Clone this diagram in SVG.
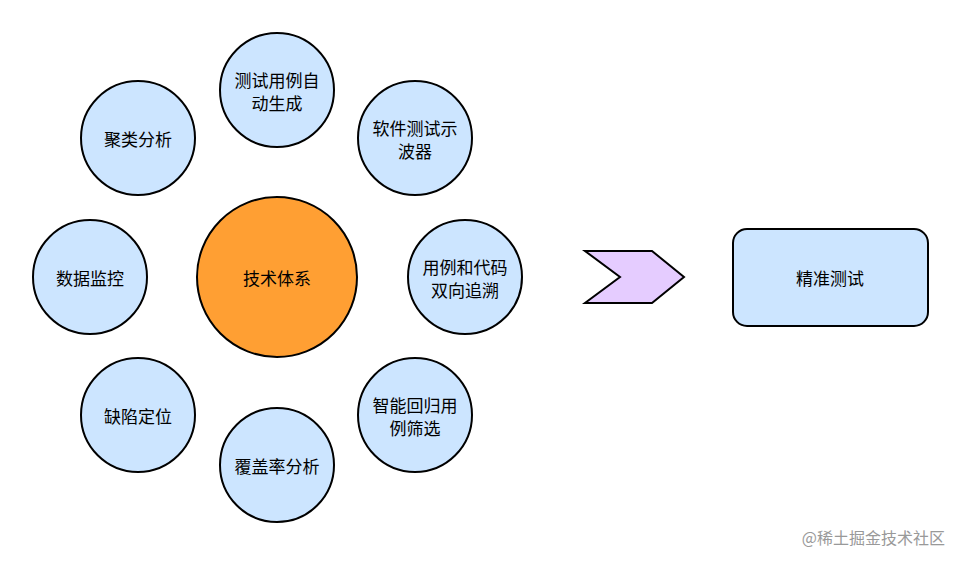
<svg xmlns="http://www.w3.org/2000/svg" width="960" height="564" viewBox="0 0 960 564">
<style>
.c{fill:#cce5ff;stroke:#000;stroke-width:2}
.o{fill:#ff9f33;stroke:#000;stroke-width:2}
text{font-family:"Noto Sans CJK SC",sans-serif;font-size:17px;fill:#000;text-anchor:middle;dominant-baseline:central}
.w{font-size:16px;fill:#999;text-anchor:end}
</style>
<rect width="960" height="564" fill="#fff"/>
<g id="center"><circle class="o" cx="277" cy="277" r="80"/><text x="277" y="277">技术体系</text></g>
<g id="n1"><circle class="c" cx="277" cy="90" r="57"/><text x="277" y="79">测试用例自</text><text x="277" y="102">动生成</text></g>
<g id="n2"><circle class="c" cx="415" cy="138" r="57"/><text x="415" y="127">软件测试示</text><text x="415" y="150">波器</text></g>
<g id="n3"><circle class="c" cx="465" cy="277" r="57"/><text x="465" y="266">用例和代码</text><text x="465" y="289">双向追溯</text></g>
<g id="n4"><circle class="c" cx="415" cy="415" r="57"/><text x="415" y="404">智能回归用</text><text x="415" y="427">例筛选</text></g>
<g id="n5"><circle class="c" cx="277" cy="465" r="57"/><text x="277" y="465">覆盖率分析</text></g>
<g id="n6"><circle class="c" cx="138" cy="415" r="57"/><text x="138" y="415">缺陷定位</text></g>
<g id="n7"><circle class="c" cx="90" cy="277" r="57"/><text x="90" y="277">数据监控</text></g>
<g id="n8"><circle class="c" cx="138" cy="138" r="57"/><text x="138" y="138">聚类分析</text></g>
<g id="connectors"><polygon points="585,251 652,251 684,277 652,303 585,303 620,277" fill="#e5ccff" stroke="#000" stroke-width="2"/></g>
<g id="result"><rect x="733" y="229" width="195" height="97" rx="14" fill="#cce5ff" stroke="#000" stroke-width="2"/><text x="830" y="277">精准测试</text></g>
<text class="w" x="945" y="537">@稀土掘金技术社区</text>
</svg>
